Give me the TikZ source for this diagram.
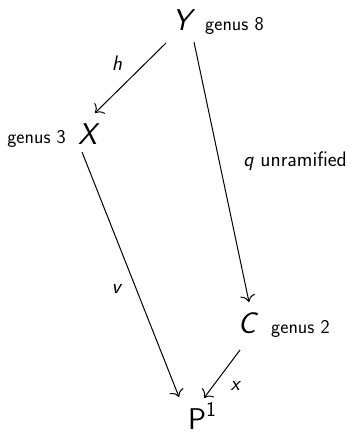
\documentclass[tikz,border=0pt]{standalone}
\usepackage{fontspec}
\usetikzlibrary{arrows.meta,calc}
\tikzset{
  obj/.style={inner sep=0pt, anchor=base, font=\sffamily\fontsize{30}{36}\selectfont},
  gen/.style={inner sep=0pt, font=\sffamily\fontsize{19.5}{23}\selectfont},
  lab/.style={inner sep=0pt, font=\sffamily\fontsize{21}{25}\selectfont},
  arr/.style={line width=1pt, -{Computer Modern Rightarrow[length=7pt,width=15pt]}}
}
\begin{document}
\begin{tikzpicture}[x=1pt,y=-1pt]
\useasboundingbox (0,0) rectangle (352,434);
\node[obj] (Y) at (184,30) {\textit{Y}};
\node[obj] (X) at (89,144) {\textit{X}};
\node[obj] (C) at (248,333) {\textit{C}};
\node[obj] (P) at (202,429.5) {P\raisebox{0.42em}{\fontsize{21}{25}\selectfont 1}};
\node[gen, anchor=base west] (gY) at (205,30) {genus 8};
\node[gen, anchor=base east] (gX) at (66,143) {genus 3};
\node[gen, anchor=base west] (gC) at (271,333) {genus 2};
\draw[arr] ($(Y.base)+(-18,13)$) -- ($(X.base)+(6,-31)$);
\node[lab] (h) at (117,63) {\textit{h}};
\draw[arr] ($(Y.base)+(10,12)$) -- ($(C.base)+(1,-31)$);
\node[lab, anchor=base east] (q) at (347,166) {\textit{q} unramified};
\draw[arr] ($(X.base)+(-7,8)$) -- ($(P.base)+(-23,-32.5)$);
\node[lab] (v) at (117,289) {\textit{v}};
\draw[arr] ($(C.base)+(-8,17)$) -- ($(P.base)+(2,-31.5)$);
\node[lab] (x) at (236,386) {\textit{x}};
\end{tikzpicture}
\end{document}
